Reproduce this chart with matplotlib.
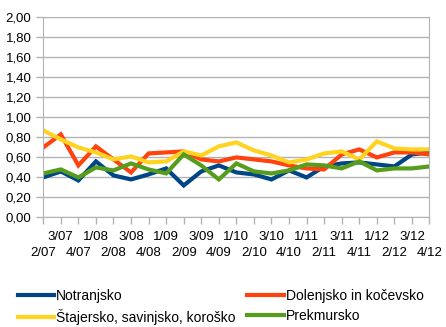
import matplotlib.pyplot as plt
import numpy as np

plt.rcParams['font.family'] = ['Liberation Sans', 'DejaVu Sans']

quarters = ['2/07', '3/07', '4/07', '1/08', '2/08', '3/08', '4/08', '1/09',
            '2/09', '3/09', '4/09', '1/10', '2/10', '3/10', '4/10', '1/11',
            '2/11', '3/11', '4/11', '1/12', '2/12', '3/12', '4/12']

notranjsko = [0.40, 0.46, 0.37, 0.56, 0.42, 0.38, 0.43, 0.49, 0.32, 0.46, 0.52,
              0.45, 0.43, 0.38, 0.47, 0.40, 0.51, 0.54, 0.55, 0.53, 0.51, 0.63,
              0.65]
dolenjsko = [0.70, 0.83, 0.52, 0.71, 0.58, 0.45, 0.64, 0.65, 0.66, 0.58, 0.56,
             0.60, 0.58, 0.56, 0.52, 0.49, 0.48, 0.63, 0.68, 0.60, 0.65, 0.65,
             0.63]
stajersko = [0.87, 0.78, 0.70, 0.65, 0.58, 0.61, 0.55, 0.56, 0.66, 0.62, 0.71,
             0.75, 0.67, 0.62, 0.55, 0.58, 0.64, 0.66, 0.58, 0.76, 0.69, 0.68,
             0.68]
prekmursko = [0.44, 0.48, 0.40, 0.50, 0.47, 0.54, 0.48, 0.44, 0.63, 0.52, 0.38,
              0.54, 0.46, 0.44, 0.47, 0.53, 0.52, 0.49, 0.56, 0.47, 0.49, 0.49,
              0.51]

series = [('Notranjsko', notranjsko, '#004586'),
          ('Dolenjsko in kočevsko', dolenjsko, '#ff420e'),
          ('Štajersko, savinjsko, koroško', stajersko, '#ffd320'),
          ('Prekmursko', prekmursko, '#579d1c')]

fig = plt.figure(figsize=(4.46, 3.27), dpi=100)
ax = fig.add_axes([0.097, 0.335, 0.866, 0.612])

x = np.arange(len(quarters))
lines = []
for name, vals, col in series:
    ln, = ax.plot(x, vals, color=col, linewidth=3, label=name,
                  solid_joinstyle='miter')
    lines.append(ln)

grey = '#b3b3b3'
ax.set_xlim(0, len(quarters) - 1)
ax.set_ylim(0, 2)
yt = np.arange(0, 2.01, 0.2)
ax.set_yticks(yt)
ax.set_yticklabels([('%.2f' % v).replace('.', ',') for v in yt])

# two rows of quarter labels: even ones below, odd ones above
ax.set_xticks(x[::2])
ax.set_xticklabels(quarters[::2])
ax.set_xticks(x[1::2], minor=True)
ax.set_xticklabels(quarters[1::2], minor=True)

ax.grid(axis='y', color=grey, linewidth=1)
ax.set_axisbelow(True)
for s in ax.spines.values():
    s.set_color(grey)
ax.tick_params(which='both', colors=grey, labelcolor='black', labelsize=9.5,
               length=5, width=1)
ax.tick_params(axis='x', which='minor', pad=4.5)
ax.tick_params(axis='x', which='major', pad=16.5)

order = [0, 2, 1, 3]
leg = fig.legend(handles=[lines[i] for i in order], ncol=2, loc='upper left',
                 bbox_to_anchor=(18 / 446, 1 - 289 / 327), frameon=False,
                 fontsize=10, handlelength=2.6, handletextpad=0.15,
                 columnspacing=0.85, borderpad=0, borderaxespad=0,
                 labelspacing=0.45)

fig.savefig('out.png', dpi=100)
